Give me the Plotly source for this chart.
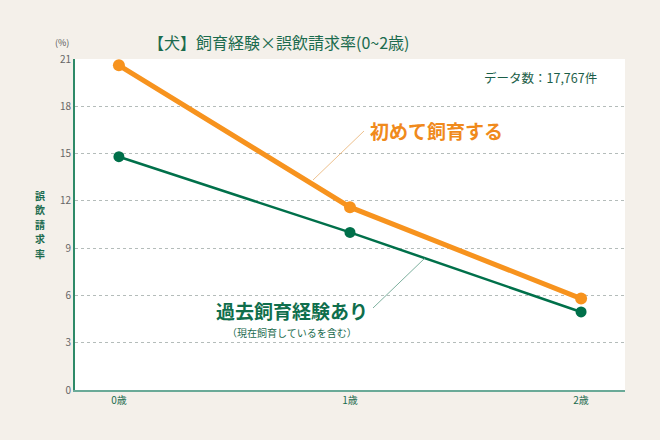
import plotly.graph_objects as go

ages = ["0歳", "1歳", "2歳"]
first_time = [20.6, 11.6, 5.8]
experienced = [14.8, 10.0, 4.95]
y_ticks = [0, 3, 6, 9, 12, 15, 18, 21]
y_title_chars = ["誤", "飲", "請", "求", "率"]

ORANGE = "#f7931e"
GREEN = "#00704a"
BG = "#f4f0ea"
FONT = "Noto Sans CJK JP"

# plot area in pixels (left, right, top, bottom)
L, R, T, B = 75, 625, 59, 390


def px_to_paper(x, y):
    return (x - L) / (R - L), (B - y) / (B - T)


fig = go.Figure()
fig.add_trace(go.Scatter(
    x=ages, y=experienced, mode="lines+markers",
    line=dict(color=GREEN, width=2.5),
    marker=dict(color=GREEN, size=11),
    name="過去飼育経験あり",
))
fig.add_trace(go.Scatter(
    x=ages, y=first_time, mode="lines+markers",
    line=dict(color=ORANGE, width=5),
    marker=dict(color=ORANGE, size=12),
    name="初めて飼育する",
))

# leader lines for the labels
x0, y0 = px_to_paper(313, 180)
x1, y1 = px_to_paper(364, 131)
fig.add_shape(type="line", xref="paper", yref="paper", x0=x0, y0=y0, x1=x1, y1=y1,
              line=dict(color="#e8b070", width=0.8))
x0, y0 = px_to_paper(373, 308)
x1, y1 = px_to_paper(425, 258)
fig.add_shape(type="line", xref="paper", yref="paper", x0=x0, y0=y0, x1=x1, y1=y1,
              line=dict(color="#5a9a84", width=0.8))

labels = [
    # text, x px, y px, size, colour, xanchor
    ("【犬】飼育経験×誤飲請求率(0~2歳)", 278, 42, 16, "#1b6b4e", "center"),
    ("(%)", 62, 43, 9, "#555555", "center"),
    ("データ数：17,767件", 599, 78, 12.5, "#1b5e48", "right"),
    ("<b>初めて飼育する</b>", 436, 130, 19, "#f08a1c", "center"),
    ("<b>過去飼育経験あり</b>", 292, 310, 19, "#0f6e4c", "center"),
    ("（現在飼育しているを含む）", 292, 332, 10, "#1b6b4e", "center"),
]
for i, ch in enumerate(y_title_chars):
    labels.append(("<b>" + ch + "</b>", 40, 195 + i * 14.5, 10, "#1b6b4e", "center"))

for text, x, y, size, color, xanchor in labels:
    ax, ay = px_to_paper(x, y)
    fig.add_annotation(text=text, x=ax, y=ay, xref="paper", yref="paper",
                       xanchor=xanchor, yanchor="middle", showarrow=False,
                       font=dict(size=size, color=color, family=FONT))

fig.update_layout(
    width=660, height=440,
    margin=dict(l=L, r=660 - R, t=T, b=440 - B),
    paper_bgcolor=BG, plot_bgcolor="white",
    showlegend=False,
    font=dict(family=FONT),
)

fig.update_xaxes(
    range=[-0.19, 2.19], showgrid=False, zeroline=False,
    showline=True, linecolor="#6aaa98", linewidth=2,
    ticks="", tickfont=dict(size=10, color="#1b6b4e"),
)
fig.update_yaxes(
    range=[0, 21], tickvals=y_ticks, showgrid=True,
    gridcolor="#b4bcba", griddash="dot", gridwidth=1,
    zeroline=False, showline=True, linecolor="#2e8a68", linewidth=2,
    ticks="", tickfont=dict(size=10, color="#666666"),
)

fig.write_html("out.html", config={"displayModeBar": False},
               post_script="document.body.style.margin='0';")
